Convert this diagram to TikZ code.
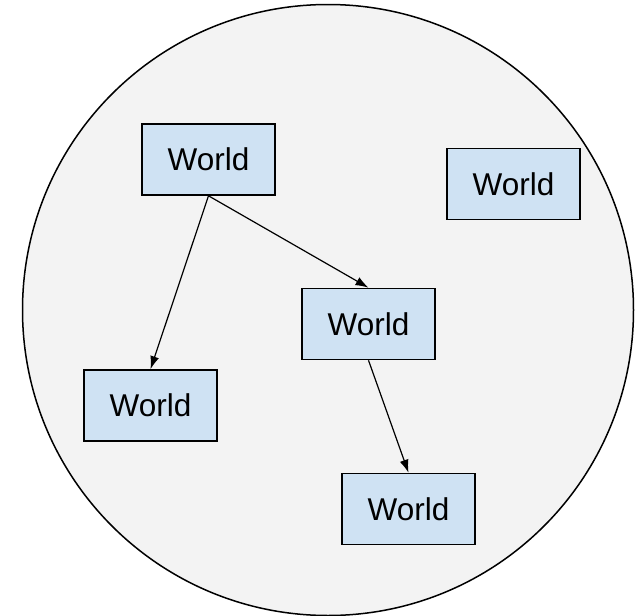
\documentclass[tikz,border=0pt]{standalone}
\usepackage{xcolor}
\usepackage{fontspec}
\setmainfont{Liberation Sans}
\usepackage{tikz}
\usetikzlibrary{arrows.meta, positioning}
\definecolor{boxbg}{HTML}{CFE2F3}
\definecolor{ringbg}{HTML}{F3F3F3}

\begin{document}
\begin{tikzpicture}[
    x=1pt, y=-1pt,
    font=\fontsize{31.5}{37}\selectfont,
    ring/.style={circle, draw=black, fill=ringbg, line width=1.5pt, inner sep=0pt},
    box/.style={draw=black, fill=boxbg, line width=1.6pt, inner sep=0pt, minimum width=133pt, minimum height=71pt},
    ar/.style={-{Latex[length=13pt, width=9pt]}, line width=1.2pt}
  ]
    \useasboundingbox (0,0) rectangle (638,616);
    \node[ring, minimum size=611pt] (world) at (328,310) {};
    \node[box] (w1) at (208.5,159.5) {World};
    \node[box] (w2) at (513.5,184) {World};
    \node[box] (w3) at (368.5,324) {World};
    \node[box] (w4) at (150.5,405.5) {World};
    \node[box] (w5) at (408.5,509) {World};
    \draw[ar] (w1.south) -- (w4.north);
    \draw[ar] (w1.south) -- (w3.north);
    \draw[ar] (w3.south) -- (w5.north);
  \end{tikzpicture}
\end{document}
